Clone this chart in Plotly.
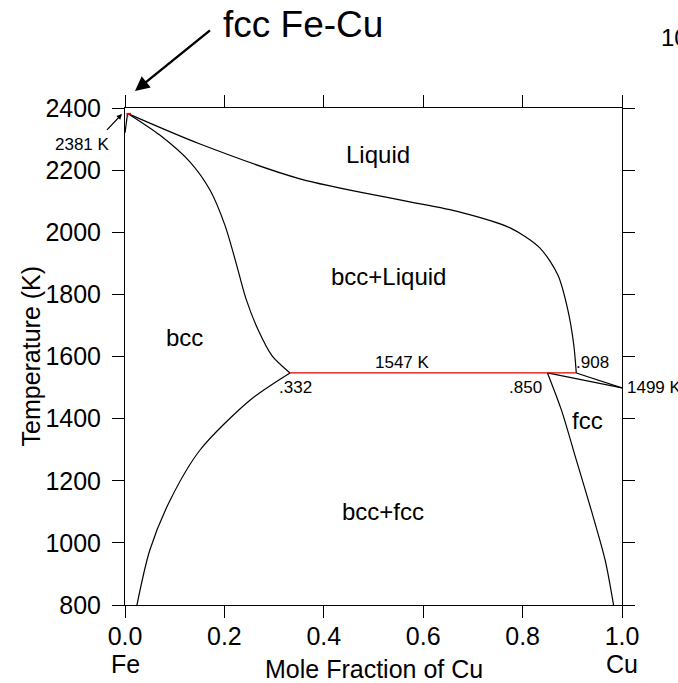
import plotly.graph_objects as go

# Liquidus (bcc+Liquid / Liquid)
liq_x = [0.007, 0.151, 0.352, 0.553, 0.674, 0.775, 0.835, 0.871, 0.891, 0.903, 0.908]
liq_T = [2381, 2284, 2172, 2104, 2065, 2014, 1949, 1862, 1750, 1637, 1547]
# bcc solidus
sol_x = [0.007, 0.070, 0.131, 0.171, 0.201, 0.223, 0.243, 0.268, 0.296, 0.332]
sol_T = [2381, 2313, 2226, 2136, 2023, 1904, 1788, 1685, 1602, 1547]
# bcc solvus
bsv_x = [0.332, 0.252, 0.151, 0.091, 0.050, 0.024]
bsv_T = [1547, 1460, 1299, 1138, 977, 800]
# fcc solvus
fsv_x = [0.850, 0.878, 0.908, 0.938, 0.966, 0.983]
fsv_T = [1547, 1428, 1267, 1106, 945, 800]
# fcc solidus / liquidus to Cu melting point
fsol_x = [0.850, 1.0]
fsol_T = [1547, 1499]
fliq_x = [0.908, 1.0]
fliq_T = [1547, 1499]
# small Fe-side wedge
wedge_x = [0.005, 0.0]
wedge_T = [2381, 2320]
# invariant lines
eut_x = [0.332, 0.908]
eut_T = [1547, 1547]
top_x = [0.003, 0.012]
top_T = [2381, 2381]

regions = ["Liquid", "bcc+Liquid", "bcc", "bcc+fcc", "fcc"]
reg_x = [0.51, 0.53, 0.12, 0.52, 0.93]
reg_T = [2249, 1856, 1660, 1100, 1393]

small_labels = [".332", "1547 K", ".850", ".908"]
small_x = [0.343, 0.559, 0.805, 0.940]
small_T = [1501, 1582, 1501, 1580]

x_ticks = [0.0, 0.2, 0.4, 0.6, 0.8, 1.0]
y_ticks = [800, 1000, 1200, 1400, 1600, 1800, 2000, 2200, 2400]

FONT = "Liberation Sans"
BIG = 25
SMALL = 17
fig = go.Figure()

def add_line(x, y, color="black", width=1.2, spline=True):
    fig.add_trace(go.Scatter(x=x, y=y, mode="lines",
                             line=dict(color=color, width=width,
                                       shape="spline" if spline else "linear", smoothing=0.8),
                             showlegend=False, hoverinfo="skip", cliponaxis=False))

add_line(liq_x, liq_T)
add_line(sol_x, sol_T)
add_line(bsv_x, bsv_T)
add_line(fsv_x, fsv_T)
add_line(fsol_x, fsol_T, spline=False)
add_line(fliq_x, fliq_T, spline=False)
add_line(wedge_x, wedge_T, spline=False)
add_line(eut_x, eut_T, color="#e00000", spline=False)
add_line(top_x, top_T, color="#e00000", width=2, spline=False)

def px_x(p):
    return (p - 125) / 497

def px_y(p):
    return (605 - p) / 497

ann = []
for t, x, y in zip(regions, reg_x, reg_T):
    ann.append(dict(x=x, y=y, text=t, showarrow=False, font=dict(size=BIG - 1, family=FONT, color="black")))
for t, x, y in zip(small_labels, small_x, small_T):
    ann.append(dict(x=x, y=y, text=t, showarrow=False, font=dict(size=SMALL, family=FONT, color="black")))
ann.append(dict(x=1.0, y=1499, text="1499 K", showarrow=False, xanchor="left", xshift=3,
                font=dict(size=SMALL, family=FONT, color="black")))
# 2381 K label with arrow
ann.append(dict(xref="paper", yref="paper", x=px_x(122), y=px_y(114), text=" ", showarrow=True,
                ax=-18, ay=19, standoff=0, startstandoff=0,
                arrowhead=2, arrowsize=0.9, arrowwidth=1.2, arrowcolor="black"))
ann.append(dict(xref="paper", yref="paper", x=px_x(82), y=px_y(144), text="2381 K", showarrow=False,
                xanchor="center", yanchor="middle",
                font=dict(size=SMALL, family=FONT, color="black")))
# title with arrow
ann.append(dict(xref="paper", yref="paper", x=px_x(135), y=px_y(91), text=" ", showarrow=True,
                ax=78, ay=-63, standoff=0, startstandoff=0,
                arrowhead=2, arrowsize=1.2, arrowwidth=2.4, arrowcolor="black"))
ann.append(dict(xref="paper", yref="paper", x=px_x(221), y=px_y(24), text="fcc Fe-Cu",
                showarrow=False, xanchor="left", yanchor="middle",
                font=dict(size=37, family=FONT, color="black")))
# element labels and axis title
ann.append(dict(xref="paper", yref="paper", x=0.0, y=px_y(664), text="Fe", xanchor="center",
                showarrow=False, yanchor="middle", font=dict(size=BIG, family=FONT, color="black")))
ann.append(dict(xref="paper", yref="paper", x=1.0, y=px_y(664), text="Cu", xanchor="center",
                showarrow=False, yanchor="middle", font=dict(size=BIG, family=FONT, color="black")))
ann.append(dict(xref="paper", yref="paper", x=0.5, y=px_y(669), text="Mole Fraction of Cu",
                xanchor="center", showarrow=False, yanchor="middle",
                font=dict(size=BIG, family=FONT, color="black")))
ann.append(dict(xref="paper", yref="paper", x=px_x(30), y=0.5, text="Temperature (K)",
                textangle=-90, showarrow=False, xanchor="center", yanchor="middle",
                font=dict(size=BIG, family=FONT, color="black")))
# clipped fragment at top right
ann.append(dict(xref="paper", yref="paper", x=px_x(659), y=px_y(38), text="10",
                showarrow=False, xanchor="left", yanchor="middle",
                font=dict(size=BIG - 1, family=FONT, color="black")))

fig.update_layout(
    width=678, height=683,
    margin=dict(l=125, r=56, t=108, b=78),
    paper_bgcolor="white", plot_bgcolor="white",
    font=dict(family=FONT, color="black"),
    annotations=ann,
    showlegend=False,
)
fig.update_xaxes(range=[0, 1], tickvals=x_ticks, ticktext=[f"{v:.1f}" for v in x_ticks],
                 ticks="outside", ticklen=12, tickwidth=1, tickcolor="black",
                 showline=True, linecolor="black", linewidth=1, mirror="ticks", ticklabelstandoff=-3,
                 showgrid=False, zeroline=False, tickfont=dict(size=BIG, family=FONT, color="black"))
fig.update_yaxes(range=[800, 2400], tickvals=y_ticks,
                 ticks="outside", ticklen=12, tickwidth=1, tickcolor="black",
                 showline=True, linecolor="black", linewidth=1, mirror="ticks", ticklabelstandoff=6,
                 showgrid=False, zeroline=False, tickfont=dict(size=BIG, family=FONT, color="black"))

fig.write_html("out.html")
